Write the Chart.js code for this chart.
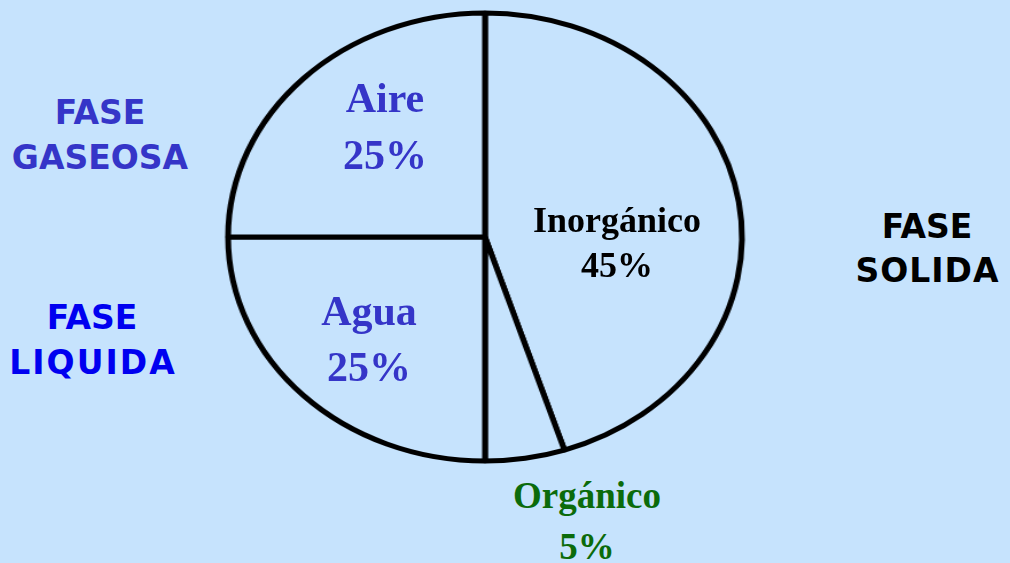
<!DOCTYPE html>
<html lang="es">
<head>
<meta charset="utf-8">
<title>Composición del suelo</title>
<script src="https://cdn.jsdelivr.net/npm/chart.js@4/dist/chart.umd.min.js"></script>
<style>
  html, body { margin: 0; padding: 0; }
  body { width: 1010px; height: 563px; background: #c6e3fd; position: relative; overflow: hidden; }
  #soilPie { position: absolute; left: 255px; top: 7px; transform: scaleX(1.147); transform-origin: 230px 230px; }
  .lbl { position: absolute; transform: translate(-50%, -50%); white-space: nowrap; font-weight: bold; line-height: 1; }
  .fase { font-family: "DejaVu Sans", Verdana, sans-serif; }
  .slice { font-family: "Liberation Serif", "Times New Roman", serif; }
</style>
</head>
<body>
<canvas id="soilPie" width="460" height="460"></canvas>
<div id="labels"></div>
<script>
(function () {
  'use strict';

  /* ── datos ── */
  const sliceLabels = ['Inorgánico', 'Orgánico', 'Agua', 'Aire'];
  const sliceValues = [45, 5, 25, 25];
  const phaseLabels = [['FASE', 'GASEOSA'], ['FASE', 'LIQUIDA'], ['FASE', 'SOLIDA']];

  const BG = '#c6e3fd';

  /* ── gráfico ── */
  new Chart(document.getElementById('soilPie'), {
    type: 'pie',
    data: {
      labels: sliceLabels,
      datasets: [{
        data: sliceValues,
        backgroundColor: BG,
        borderColor: '#000',
        borderWidth: 5,
      }],
    },
    options: {
      responsive: false,
      animation: false,
      devicePixelRatio: 1,
      radius: 224,
      layout: { padding: 0 },
      plugins: { legend: { display: false }, tooltip: { enabled: false } },
    },
  });

  /* ── etiquetas (x, línea base) ── */
  const sliceStyle = [
    { color: '#000',    size: 36, x: 617, base: [232, 277] },
    { color: '#0b6b0b', size: 37, x: 587, base: [508, 559] },
    { color: '#3535c8', size: 42, x: 369, base: [325, 381] },
    { color: '#3535c8', size: 42, x: 385, base: [112, 169] },
  ];
  const phaseStyle = [
    { color: '#3535c8', x: 100, base: [123, 168], ls: [0, 0] },
    { color: '#0000f0', x: 92,  base: [328, 373], ls: [0, 2] },
    { color: '#000',    x: 927, base: [237, 281], ls: [0, 1] },
  ];

  const wrap = document.getElementById('labels');
  function addLine(cls, text, x, base, size, color, ls) {
    const el = document.createElement('div');
    el.className = 'lbl ' + cls;
    el.textContent = text;
    el.style.left = x + 'px';
    el.style.top = (base - 0.34 * size) + 'px';
    el.style.fontSize = size + 'px';
    el.style.color = color;
    if (ls) { el.style.letterSpacing = ls + 'px'; el.style.textIndent = ls + 'px'; }
    wrap.appendChild(el);
  }

  sliceLabels.forEach((name, i) => {
    const s = sliceStyle[i];
    addLine('slice', name, s.x, s.base[0], s.size, s.color);
    addLine('slice', sliceValues[i] + '%', s.x, s.base[1], s.size, s.color);
  });
  phaseLabels.forEach((lines, i) => {
    const s = phaseStyle[i];
    lines.forEach((t, j) => addLine('fase', t, s.x, s.base[j], 33, s.color, s.ls[j]));
  });
})();
</script>
</body>
</html>
